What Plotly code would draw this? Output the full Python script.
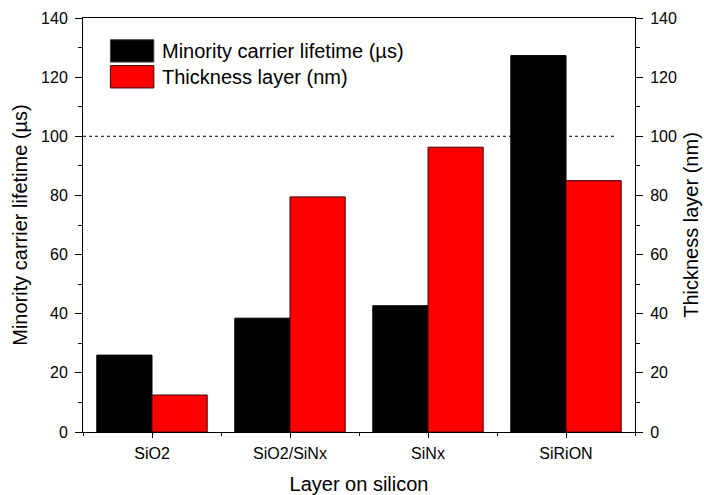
import plotly.graph_objects as go

# Passivation layers and measured values
layers = ["SiO2", "SiO2/SiNx", "SiNx", "SiRiON"]
lifetime_us = [26.0, 38.5, 42.7, 127.3]
thickness_nm = [12.5, 79.5, 96.3, 85.0]

lifetime_name = "Minority carrier lifetime (µs)"
thickness_name = "Thickness layer (nm)"
reference_level = 100

font_family = "Liberation Sans, Arial, sans-serif"
x_pos = list(range(len(layers)))

fig = go.Figure()
fig.add_trace(go.Bar(
    x=x_pos, y=lifetime_us, name=lifetime_name, yaxis="y",
    offset=-0.4, width=0.4,
    marker=dict(color="#000000", line=dict(color="#000000", width=1)),
    showlegend=False,
))
fig.add_trace(go.Bar(
    x=x_pos, y=thickness_nm, name=thickness_name, yaxis="y2",
    offset=0.0, width=0.4,
    marker=dict(color="#ff0000", line=dict(color="#3a0000", width=1)),
    showlegend=False,
))

# dotted reference line at 100
fig.add_shape(type="line", xref="x", yref="y",
              x0=-0.5, x1=3.37, y0=reference_level, y1=reference_level,
              line=dict(color="black", width=1, dash="3px,3px"), layer="below")

# legend drawn as large swatches with labels
swatches = [("#000000", "#444444", lifetime_name), ("#ff0000", "#3a0000", thickness_name)]
for i, (fill, edge, label) in enumerate(swatches):
    y_top = 0.9475 - i * 0.0625
    fig.add_shape(type="rect", xref="paper", yref="paper",
                  x0=0.0496, x1=0.1283, y0=y_top - 0.054, y1=y_top,
                  fillcolor=fill, line=dict(color=edge, width=1))
    fig.add_annotation(xref="paper", yref="paper", x=0.139, y=y_top - 0.027,
                       text=label, showarrow=False, xanchor="left", yanchor="middle",
                       font=dict(family=font_family, size=20, color="black"))

axis_common = dict(
    showline=True, linecolor="black", linewidth=1,
    ticks="outside", tickcolor="black", tickwidth=1,
    showgrid=False, zeroline=False, automargin=False,
    tickfont=dict(family=font_family, size=16, color="black"),
)

fig.update_layout(
    width=704, height=495,
    margin=dict(l=83, r=69, t=18, b=63),
    paper_bgcolor="white", plot_bgcolor="white",
    font=dict(family=font_family, color="black"),
    bargap=0.2,
    xaxis=dict(
        **axis_common,
        range=[-0.5, 3.5], tickmode="array", tickvals=x_pos, ticktext=layers,
        ticklen=5, mirror=True, ticklabelstandoff=2,
        minor=dict(tickmode="linear", tick0=-0.5, dtick=1, ticks="outside",
                   ticklen=3, tickcolor="black", tickwidth=1),
        title=dict(text="Layer on silicon", standoff=16,
                   font=dict(family=font_family, size=20, color="black")),
    ),
    yaxis=dict(
        **axis_common,
        range=[0, 140], dtick=20, ticklen=7, ticklabelstandoff=4,
        minor=dict(dtick=10, ticks="outside", ticklen=4, tickcolor="black", tickwidth=1),
        title=dict(text=lifetime_name, standoff=8,
                   font=dict(family=font_family, size=20, color="black")),
    ),
    yaxis2=dict(
        **axis_common,
        overlaying="y", side="right", anchor="x",
        range=[0, 140], dtick=20, ticklen=7, ticklabelstandoff=4,
        minor=dict(dtick=10, ticks="outside", ticklen=4, tickcolor="black", tickwidth=1),
        title=dict(text=thickness_name, standoff=8,
                   font=dict(family=font_family, size=20, color="black")),
    ),
)

fig.write_html("out.html")
